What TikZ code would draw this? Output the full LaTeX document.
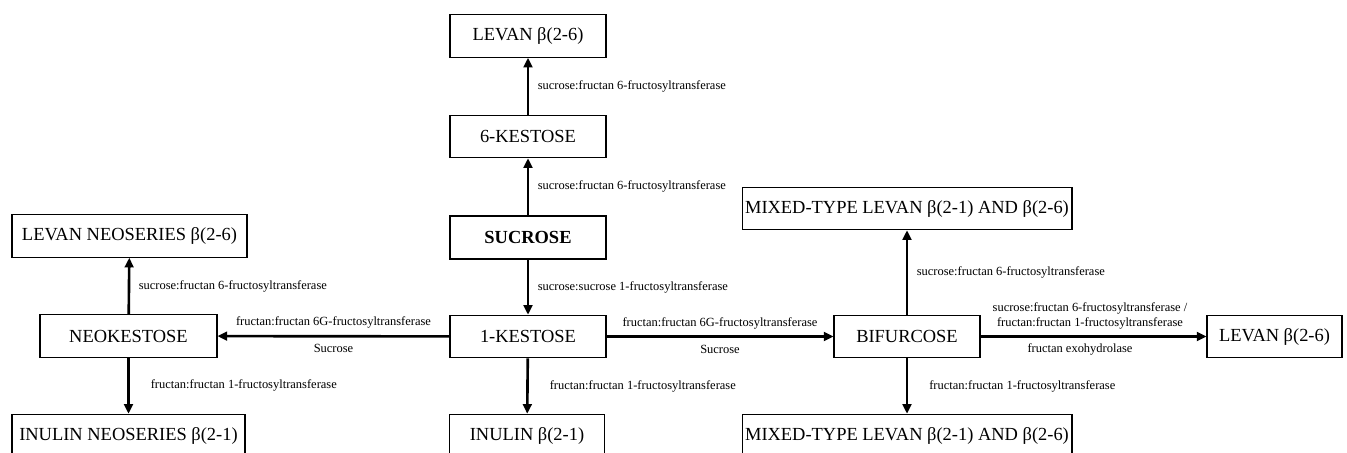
\documentclass[tikz,border=0pt]{standalone}
\usepackage{fontspec}
\setmainfont{Liberation Serif}
\usetikzlibrary{arrows.meta}

\begin{document}
\begin{tikzpicture}[x=0.02cm,y=-0.02cm,
  box/.style={draw,line width=0.6pt,minimum height=0.85cm,inner sep=0pt,font=\fontsize{10.5}{12}\selectfont},
  mainbox/.style={box,line width=1.4pt,font=\fontsize{10.5}{12}\selectfont\bfseries},
  conv/.style={line width=1.5pt,-{Triangle[length=5.5pt,width=5pt]}},
  enz/.style={font=\fontsize{7.1}{8.5}\selectfont,inner sep=2pt}]
\useasboundingbox (0,0) rectangle (1347,453);
\node[box,minimum width=3.12cm] (levtop) at (528,36) {LEVAN β(2-6)};
\node[box,minimum width=3.12cm] (kes6) at (528,136.5) {6-KESTOSE};
\node[mainbox,minimum width=3.12cm] (sucr) at (528,237.5) {SUCROSE};
\node[box,minimum width=3.12cm] (kes1) at (528,336.5) {1-KESTOSE};
\node[box,minimum width=3.1cm] (inulin) at (527,435.5) {INULIN β(2-1)};
\node[box,minimum width=4.7cm] (levneo) at (129.5,236) {LEVAN NEOSERIES β(2-6)};
\node[box,minimum width=3.54cm] (neokes) at (128.5,336) {NEOKESTOSE};
\node[box,minimum width=4.66cm] (inuneo) at (128.5,435.5) {INULIN NEOSERIES β(2-1)};
\node[box,minimum width=6.6cm] (mixtop) at (907,208.5) {MIXED-TYPE LEVAN β(2-1) AND β(2-6)};
\node[box,minimum width=2.92cm] (bifur) at (907,336.5) {BIFURCOSE};
\node[box,minimum width=2.7cm] (levright) at (1274.5,336.5) {LEVAN β(2-6)};
\node[box,minimum width=6.6cm] (mixbot) at (907,435.5) {MIXED-TYPE LEVAN β(2-1) AND β(2-6)};
\draw[conv] (kes6) -- node[enz,right,xshift=0.1cm] {sucrose:fructan 6-fructosyltransferase} (levtop);
\draw[conv] (sucr) -- node[enz,right,xshift=0.1cm] {sucrose:fructan 6-fructosyltransferase} (kes6);
\draw[conv] (sucr) -- node[enz,right,xshift=0.1cm] {sucrose:sucrose 1-fructosyltransferase} (kes1);
\draw[conv] (kes1) -- node[enz,right,xshift=0.35cm] {fructan:fructan 1-fructosyltransferase} (inulin);
\draw[conv] (kes1) -- node[enz,yshift=0.27cm] {fructan:fructan 6G-fructosyltransferase}
  node[enz,yshift=-0.25cm] {Sucrose} (bifur);
\draw[conv] (kes1) -- node[enz,yshift=0.27cm] {fructan:fructan 6G-fructosyltransferase}
  node[enz,yshift=-0.25cm] {Sucrose} (neokes);
\draw[conv] (neokes) -- node[enz,right,xshift=0.1cm] {sucrose:fructan 6-fructosyltransferase} (levneo);
\draw[conv] (neokes) -- node[enz,right,xshift=0.35cm] {fructan:fructan 1-fructosyltransferase} (inuneo);
\draw[conv] (bifur) -- node[enz,right,xshift=0.1cm] {sucrose:fructan 6-fructosyltransferase} (mixtop);
\draw[conv] (bifur) -- node[enz,align=center,yshift=0.42cm,xshift=-0.07cm] {sucrose:fructan 6-fructosyltransferase /\\fructan:fructan 1-fructosyltransferase}
  node[enz,yshift=-0.25cm,xshift=-0.27cm] {fructan exohydrolase} (levright);
\draw[conv] (bifur) -- node[enz,right,xshift=0.35cm] {fructan:fructan 1-fructosyltransferase} (mixbot);
\end{tikzpicture}
\end{document}
